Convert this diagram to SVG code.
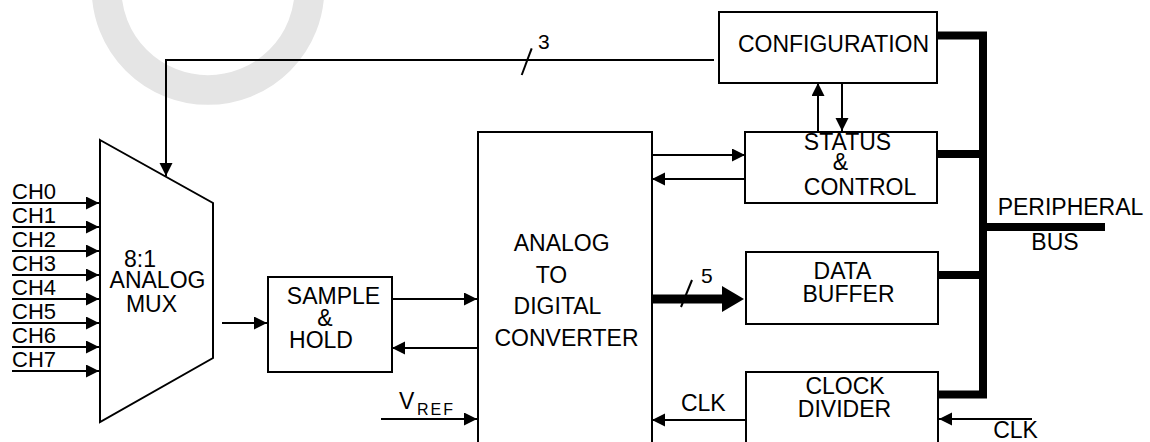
<svg xmlns="http://www.w3.org/2000/svg" width="1150" height="442" viewBox="0 0 1150 442">
<defs>
<style>
text{font-family:"Liberation Sans",Arial,sans-serif;font-size:23px;fill:#000}
.m{text-anchor:middle}
.ch{font-size:22px}
.sm{font-size:21px}
.box{fill:#fff;stroke:#000;stroke-width:2}
.ln{fill:none;stroke:#000;stroke-width:2}
.bus{fill:none;stroke:#000;stroke-width:8}
</style>
<marker id="ah" markerUnits="userSpaceOnUse" markerWidth="14" markerHeight="14" refX="13" refY="6.5" orient="auto">
<path d="M0,0 L13,6.5 L0,13 z" fill="#000"/>
</marker>
</defs>
<rect width="1150" height="442" fill="#fff"/>
<circle cx="208" cy="-11.5" r="101.5" fill="none" stroke="#e5e5e5" stroke-width="29.7"/>

<g id="connectors">
<path class="ln" d="M714,60 H166 V176" marker-end="url(#ah)"/>
<path class="ln" d="M12,203 H99" marker-end="url(#ah)"/>
<path class="ln" d="M12,227 H99" marker-end="url(#ah)"/>
<path class="ln" d="M12,251 H99" marker-end="url(#ah)"/>
<path class="ln" d="M12,275 H99" marker-end="url(#ah)"/>
<path class="ln" d="M12,299 H99" marker-end="url(#ah)"/>
<path class="ln" d="M12,323 H99" marker-end="url(#ah)"/>
<path class="ln" d="M12,347 H99" marker-end="url(#ah)"/>
<path class="ln" d="M12,371 H99" marker-end="url(#ah)"/>
<path class="ln" d="M222,323 H267" marker-end="url(#ah)"/>
<path class="ln" d="M392,299 H477" marker-end="url(#ah)"/>
<path class="ln" d="M478,348 H392" marker-end="url(#ah)"/>
<path class="ln" d="M381,419 H477" marker-end="url(#ah)"/>
<path class="ln" d="M650,155 H745" marker-end="url(#ah)"/>
<path class="ln" d="M745,179 H652" marker-end="url(#ah)"/>
<path class="ln" d="M818,132 V83" marker-end="url(#ah)"/>
<path class="ln" d="M842,83 V131" marker-end="url(#ah)"/>
<path class="ln" d="M746,420 H652" marker-end="url(#ah)"/>
<path class="ln" d="M1032,419 H939" marker-end="url(#ah)"/>
<path d="M652,299 H723" fill="none" stroke="#000" stroke-width="9"/>
<polygon points="722,286 744,299 722,312" fill="#000"/>
<path class="ln" d="M521.7,75 L531.7,48.3"/>
<path class="ln" d="M681,307 L692,280"/>
<path class="bus" d="M937,35.5 H983 V394.5 H938" stroke-linejoin="miter"/>
<path class="bus" d="M937,154 H983 M938,275 H983 M983,227 H1105"/>
</g>

<g id="mux">
<polygon class="box" points="100,140 213,203 213,358 100,422"/>
<text class="m" x="140" y="267">8:1</text>
<text class="m" x="157.5" y="288">ANALOG</text>
<text class="m" x="151.5" y="312">MUX</text>
</g>

<g id="channels">
<text class="ch" x="12" y="198.5">CH0</text>
<text class="ch" x="12" y="222.5">CH1</text>
<text class="ch" x="12" y="246.5">CH2</text>
<text class="ch" x="12" y="270.5">CH3</text>
<text class="ch" x="12" y="294.5">CH4</text>
<text class="ch" x="12" y="318.5">CH5</text>
<text class="ch" x="12" y="342.5">CH6</text>
<text class="ch" x="12" y="366.5">CH7</text>
</g>

<g id="sample-hold">
<rect class="box" x="268" y="277" width="124" height="95"/>
<text class="m" x="333.5" y="304">SAMPLE</text>
<text class="m" x="325" y="326">&amp;</text>
<text class="m" x="321" y="348">HOLD</text>
</g>

<g id="adc">
<rect class="box" x="478" y="132" width="174" height="320"/>
<text class="m" x="561.7" y="251">ANALOG</text>
<text class="m" x="551.5" y="283">TO</text>
<text class="m" x="557.5" y="314">DIGITAL</text>
<text class="m" x="566.5" y="346">CONVERTER</text>
</g>

<g id="configuration">
<rect class="box" x="719" y="12" width="218" height="71"/>
<text class="m" x="833.5" y="52">CONFIGURATION</text>
</g>

<g id="status-control">
<rect class="box" x="745" y="132" width="192" height="71"/>
<text class="m" x="847.5" y="150">STATUS</text>
<text class="m" x="840.5" y="170">&amp;</text>
<text class="m" x="860" y="195">CONTROL</text>
</g>

<g id="data-buffer">
<rect class="box" x="746" y="252" width="192" height="72"/>
<text class="m" x="842.5" y="279">DATA</text>
<text class="m" x="848.5" y="302">BUFFER</text>
</g>

<g id="clock-divider">
<rect class="box" x="746" y="372" width="192" height="80"/>
<text class="m" x="845" y="394">CLOCK</text>
<text class="m" x="844.5" y="417">DIVIDER</text>
</g>

<g id="labels">
<text class="sm" x="538" y="49">3</text>
<text class="sm" x="701" y="283">5</text>
<text x="399" y="409">V<tspan x="417" y="415" font-size="16" letter-spacing="2">REF</tspan></text>
<text class="m" x="703.3" y="411">CLK</text>
<text class="m" x="1015.5" y="438">CLK</text>
<text class="m" x="1070.5" y="215">PERIPHERAL</text>
<text class="m" x="1055" y="250">BUS</text>
</g>
</svg>
